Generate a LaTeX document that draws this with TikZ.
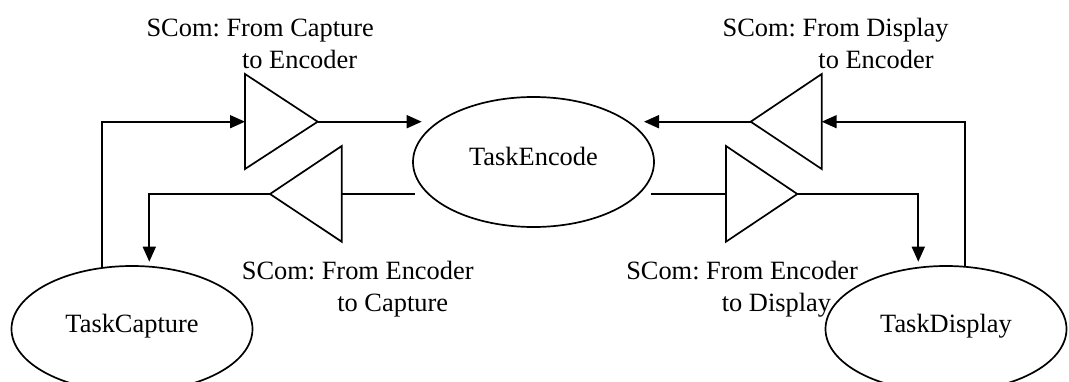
\documentclass[tikz,border=0pt]{standalone}
\usepackage{fontspec}
\setmainfont{Liberation Serif}
\frenchspacing
\usetikzlibrary{arrows.meta,shapes.geometric,calc}
\begin{document}
\begin{tikzpicture}[x=1pt,y=-1pt,
  line width=1.7pt, line join=miter,
  every node/.style={font=\fontsize{26.4}{32}\selectfont},
  task/.style={draw, ellipse, minimum width=241pt, minimum height=126pt, inner sep=0pt, text height=18pt, text depth=12pt},
  tri/.style={draw, line width=1.7pt},
  lbl/.style={anchor=base west, align=left, inner sep=0pt},
  arr/.style={-{Triangle[length=15pt,width=13pt]}},
  link/.style={line width=1.7pt}
]
\useasboundingbox (0,0) rectangle (1069,381);

% task ellipses
\node[task, minimum height=130pt] (enc) at (533.5,162) {TaskEncode};
\node[task] (cap) at (132,329) {TaskCapture};
\node[task] (disp) at (946,329) {TaskDisplay};

% SCom triangles
\draw[tri] (245,74) -- (245,169) -- (317.7,121.7) -- cycle;
\coordinate (t1in) at (245,121.7);
\coordinate (t1out) at (317.7,121.7);

\draw[tri] (341.7,146) -- (341.7,241.7) -- (270,194) -- cycle;
\coordinate (t2in) at (341.7,194);
\coordinate (t2out) at (270,194);

\draw[tri] (821.7,74) -- (821.7,169) -- (750.7,121.7) -- cycle;
\coordinate (t3in) at (821.7,121.7);
\coordinate (t3out) at (750.7,121.7);

\draw[tri] (726,146) -- (726,241.7) -- (797.3,194) -- cycle;
\coordinate (t4in) at (726,194);
\coordinate (t4out) at (797.3,194);

% connector end points near the ellipses
\coordinate (capOut) at ($(cap)+(-30.3,-61)$);
\coordinate (capIn) at ($(cap)+(17.3,-67.3)$);
\coordinate (dispOut) at ($(disp)+(19,-62.2)$);
\coordinate (dispIn) at ($(disp)+(-27.7,-67.3)$);
\coordinate (encInL) at ($(enc)+(-111.8,-40.3)$);
\coordinate (encOutL) at ($(enc)+(-118.5,32)$);
\coordinate (encInR) at ($(enc)+(110.5,-40.3)$);
\coordinate (encOutR) at ($(enc)+(117.2,32)$);

% connectors
\draw[link,arr] (capOut) |- (t1in);
\draw[link,arr] (t1out) -- (encInL);
\draw[link] (encOutL) -- (t2in);
\draw[link,arr] (t2out) -| (capIn);
\draw[link,arr] (dispOut) |- (t3in);
\draw[link,arr] (t3out) -- (encInR);
\draw[link] (encOutR) -- (t4in);
\draw[link,arr] (t4out) -| (dispIn);

% labels (anchor at the baseline of the second line)
\node[lbl] (l1) at (145.7,68) {SCom: From Capture\\\hspace*{95.5pt}to Encoder};
\node[lbl] (l2) at (721.8,68) {SCom: From Display\\\hspace*{95.8pt}to Encoder};
\node[lbl] (l3) at (241,311) {SCom: From Encoder\\\hspace*{95.5pt}to Capture};
\node[lbl] (l4) at (625.4,311) {SCom: From Encoder\\\hspace*{95.6pt}to Display};
\end{tikzpicture}
\end{document}
